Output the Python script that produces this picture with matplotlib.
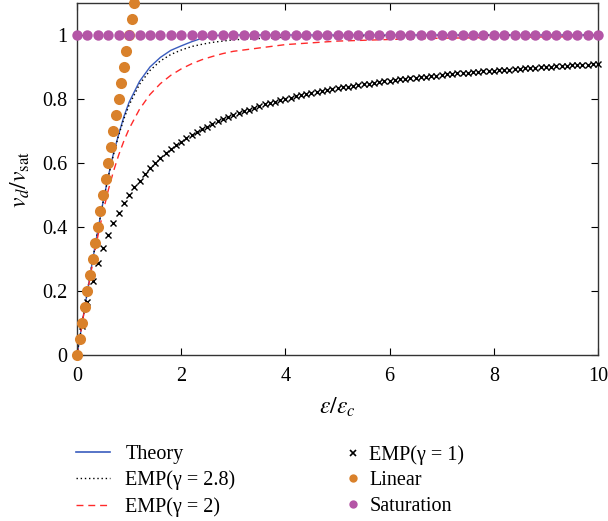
import numpy as np
import matplotlib
matplotlib.use("Agg")
import matplotlib.pyplot as plt
from matplotlib.lines import Line2D
from matplotlib.ticker import FixedLocator, FixedFormatter

# --- Data ---
eps_line = [0, 0.1, 0.2, 0.3, 0.4, 0.5, 0.6, 0.7, 0.8, 0.9, 1.0,
            1.2, 1.4, 1.6, 1.8, 2.0, 2.2, 2.4, 2.6, 2.8, 3.0,
            4, 5, 6, 7, 8, 9, 10]
v_theory = [0, 0.100, 0.199, 0.297, 0.390, 0.478, 0.558, 0.630, 0.690, 0.745, 0.790,
            0.855, 0.900, 0.930, 0.952, 0.966, 0.979, 0.990, 0.997, 1.0, 1.0,
            1.0, 1.0, 1.0, 1.0, 1.0, 1.0, 1.0]
v_emp28 = [0, 0.100, 0.199, 0.296, 0.390, 0.477, 0.556, 0.626, 0.687, 0.738, 0.781,
           0.846, 0.889, 0.919, 0.939, 0.953, 0.964, 0.971, 0.977, 0.981, 0.985,
           0.993, 0.997, 0.998, 0.999, 0.9995, 0.9997, 0.9998]
v_emp2 = [0, 0.0995, 0.196, 0.287, 0.371, 0.447, 0.515, 0.574, 0.625, 0.669, 0.707,
          0.768, 0.814, 0.848, 0.874, 0.894, 0.910, 0.923, 0.933, 0.942, 0.949,
          0.970, 0.981, 0.986, 0.990, 0.992, 0.994, 0.995]

# EMP(gamma=1) markers, every 0.1 from 0 to 10
eps_emp1 = np.linspace(0, 10, 101)
v_emp1 = [0, 0.091, 0.167, 0.231, 0.286, 0.333, 0.375, 0.412, 0.444, 0.474,
          0.500, 0.524, 0.545, 0.565, 0.583, 0.600, 0.615, 0.630, 0.643, 0.655,
          0.667, 0.677, 0.688, 0.697, 0.706, 0.714, 0.722, 0.730, 0.737, 0.744,
          0.750, 0.756, 0.762, 0.767, 0.773, 0.778, 0.783, 0.787, 0.792, 0.796,
          0.800, 0.804, 0.808, 0.811, 0.815, 0.818, 0.821, 0.825, 0.828, 0.831,
          0.833, 0.836, 0.839, 0.841, 0.844, 0.846, 0.848, 0.851, 0.853, 0.855,
          0.857, 0.859, 0.861, 0.863, 0.865, 0.867, 0.868, 0.870, 0.872, 0.873,
          0.875, 0.877, 0.878, 0.880, 0.881, 0.882, 0.884, 0.885, 0.886, 0.888,
          0.889, 0.890, 0.891, 0.892, 0.894, 0.895, 0.896, 0.897, 0.898, 0.899,
          0.900, 0.901, 0.902, 0.903, 0.904, 0.905, 0.906, 0.907, 0.907, 0.908,
          0.909]

# Linear regime dots
v_linear = [0, 0.05, 0.10, 0.15, 0.20, 0.25, 0.30, 0.35, 0.40, 0.45, 0.50, 0.55,
            0.60, 0.65, 0.70, 0.75, 0.80, 0.85, 0.90, 0.95, 1.00, 1.05, 1.10]
eps_linear = list(v_linear)

# Saturation dots, every 0.2
eps_sat = np.linspace(0, 10, 51)
v_sat = [1.0] * len(eps_sat)

xticks = [0, 2, 4, 6, 8, 10]
yticks = [0, 0.2, 0.4, 0.6, 0.8, 1.0]
ytick_labels = ["0", "0.2", "0.4", "0.6", "0.8", "1"]

# --- Style ---
plt.rcParams["font.family"] = "Liberation Serif"
plt.rcParams["mathtext.fontset"] = "stix"

c_theory = "#3a5cbd"
c_red = "#ff2a2a"
c_orange = "#d9812b"
c_purple = "#b455a6"
dotted = (0, (1, 2.0))
dashed = (0, (5, 3.5))

fig = plt.figure(figsize=(6.08, 5.21), dpi=100)
ax = fig.add_axes([77 / 608, 1 - 355 / 521, 521 / 608, 352 / 521])

ax.plot(eps_line, v_theory, color=c_theory, lw=1.0, zorder=2)
ax.plot(eps_line, v_emp28, color="black", lw=1.0, ls=dotted, zorder=2)
ax.plot(eps_line, v_emp2, color=c_red, lw=1.0, ls=dashed, zorder=2)
ax.plot(eps_emp1, v_emp1, ls="none", marker="x", ms=4.5, mew=1.0,
        color="black", zorder=3, clip_on=False)
ax.plot(eps_linear, v_linear, ls="none", marker="o", ms=8, mew=0,
        color=c_orange, zorder=4, clip_on=False)
ax.plot(eps_sat, v_sat, ls="none", marker="o", ms=7.5, mew=0,
        color=c_purple, zorder=5, clip_on=False)

ax.set_xlim(0, 10)
ax.set_ylim(0, 1.1)
ax.xaxis.set_major_locator(FixedLocator(xticks))
ax.yaxis.set_major_locator(FixedLocator(yticks))
ax.yaxis.set_major_formatter(FixedFormatter(ytick_labels))
ax.tick_params(direction="in", top=True, right=True, length=5, width=0.8,
               labelsize=14.5)
ax.tick_params(axis="x", pad=8.5)
ax.tick_params(axis="y", pad=7)
for s in ax.spines.values():
    s.set_linewidth(1.0)
    s.set_color("#333333")

ax.set_xlabel(r"$\varepsilon/\varepsilon_c$", fontsize=17, labelpad=7)
ax.set_ylabel(r"$v_d/v_{\mathrm{sat}}$", fontsize=17, labelpad=7)

# --- Legend: two blocks below the axes ---
line_handles = [
    Line2D([], [], color=c_theory, lw=1.2),
    Line2D([], [], color="black", lw=1.0, ls=dotted),
    Line2D([], [], color=c_red, lw=1.0, ls=dashed),
]
line_labels = ["Theory", "EMP(\u03b3 = 2.8)", "EMP(\u03b3 = 2)"]
mark_handles = [
    Line2D([], [], ls="none", marker="x", ms=4, mew=1.2, color="black"),
    Line2D([], [], ls="none", marker="o", ms=6, mew=0, color=c_orange),
    Line2D([], [], ls="none", marker="o", ms=6, mew=0, color=c_purple),
]
mark_labels = ["EMP(\u03b3 = 1)", "Linear", "Saturation"]

leg_kw = dict(loc="upper left", frameon=False, borderpad=0, borderaxespad=0,
              labelspacing=0.33, fontsize=14.5)
fig.legend(line_handles, line_labels, bbox_to_anchor=(76 / 608, 1 - 445 / 521),
           handlelength=1.7, handletextpad=0.75, **leg_kw)
fig.legend(mark_handles, mark_labels, bbox_to_anchor=(348 / 608, 1 - 445 / 521),
           handlelength=0.5, handletextpad=0.55, **leg_kw)

fig.savefig("out.png", dpi=100)
